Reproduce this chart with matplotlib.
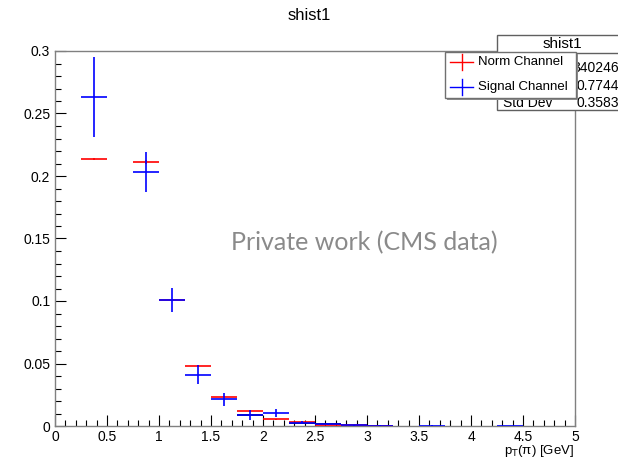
import matplotlib
matplotlib.use("Agg")
import matplotlib.pyplot as plt
from matplotlib.patches import Rectangle
from matplotlib.lines import Line2D
from matplotlib.ticker import MultipleLocator

plt.rcParams['font.family'] = ['Liberation Sans', 'DejaVu Sans']

# bins of width 0.25, only the filled ones
bin_width = 0.25
norm_x = [0.375, 0.875, 1.125, 1.375, 1.625, 1.875, 2.125, 2.375, 2.625, 2.875, 3.125]
norm_y = [0.214, 0.2115, 0.101, 0.0483, 0.0235, 0.012, 0.0053, 0.0032, 0.0012, 0.0006, 0.0003]
norm_err = [0.0008, 0.0015, 0.001, 0.0008, 0.0006, 0.0004, 0.0003, 0.0002, 0.0001, 0.0001, 0.0001]

sig_x = [0.375, 0.875, 1.125, 1.375, 1.625, 1.875, 2.125, 2.375, 2.625, 2.875, 3.125, 3.625, 4.375]
sig_y = [0.2635, 0.2035, 0.101, 0.041, 0.0213, 0.0088, 0.0107, 0.0028, 0.0016, 0.0006, 0.0004, 0.0004, 0.0002]
sig_err = [0.032, 0.016, 0.0095, 0.0076, 0.0055, 0.0037, 0.0032, 0.0015, 0.001, 0.0004, 0.0004, 0.0004, 0.0001]

# black stat histogram, only a few segments show through
hist_x = [1.875, 2.375, 2.625]
hist_y = [0.0088, 0.0028, 0.0016]

stat_labels = ["Entries", "Mean", "Std Dev"]
stat_values = ["340246", "0.7744", "0.3583"]

W, H = 618, 459


def fx(px):
    return px / W


def fy(py):
    return 1 - py / H


fig = plt.figure(figsize=(W / 100, H / 100), dpi=100)
ax = fig.add_axes([fx(55), fy(426), fx(575) - fx(55), fy(51) - fy(426)])

ax.errorbar(hist_x, hist_y, xerr=bin_width / 2, fmt='none', ecolor='black',
            elinewidth=1.2, capsize=0, zorder=2)
ax.errorbar(norm_x, norm_y, xerr=bin_width / 2, yerr=norm_err, fmt='none',
            ecolor='red', elinewidth=1.2, capsize=0, zorder=3)
ax.errorbar(sig_x, sig_y, xerr=bin_width / 2, yerr=sig_err, fmt='none',
            ecolor='blue', elinewidth=1.2, capsize=0, zorder=4)

ax.set_xlim(0, 5)
ax.set_ylim(0, 0.3)
ax.xaxis.set_major_locator(MultipleLocator(0.5))
ax.xaxis.set_minor_locator(MultipleLocator(0.1))
ax.yaxis.set_major_locator(MultipleLocator(0.05))
ax.yaxis.set_minor_locator(MultipleLocator(0.01))
ax.set_xticklabels([f"{v:g}" for v in ax.get_xticks()])
ax.set_yticklabels([f"{v:g}" for v in ax.get_yticks()])
ax.tick_params(which='both', direction='in', top=False, right=False,
               labelsize=10, width=0.8)
ax.tick_params(which='major', length=8)
ax.tick_params(which='minor', length=4)
ax.tick_params(axis='x', pad=3)
for s in ax.spines.values():
    s.set_color('#808080')
    s.set_linewidth(1.0)

# x axis title, right aligned under the tick labels
fig.text(fx(574), fy(451), r'p$_{\rm T}$(π) [GeV]', ha='right', va='center', fontsize=9.5)

fig.text(0.5, fy(15), "shist1", ha='center', va='center', fontsize=12)

fig.text(fx(364), fy(243), "Private work (CMS data)", ha='center', va='center',
         fontsize=18, color='#8a8a8a', family=['Lato', 'DejaVu Sans'])

# stats box
fig.add_artist(Rectangle((fx(497), fy(110)), fx(130), fy(35) - fy(110),
                         transform=fig.transFigure, facecolor='white',
                         edgecolor='#606060', lw=1, zorder=5))
fig.add_artist(Line2D([fx(497), 1], [fy(53), fy(53)], transform=fig.transFigure,
                      color='#606060', lw=1, zorder=5))
fig.text(fx(562), fy(44), "shist1", ha='center', va='center', fontsize=11, zorder=5)
for i, (lab, val) in enumerate(zip(stat_labels, stat_values)):
    yy = fy(68 + i * 17.5)
    fig.text(fx(503), yy, lab, ha='left', va='center', fontsize=10, zorder=5)
    fig.text(fx(619), yy, val, ha='right', va='center', fontsize=10, zorder=5)

# legend with shadow
fig.add_artist(Rectangle((fx(447), fy(100)), fx(131), fy(52) - fy(98),
                         transform=fig.transFigure, facecolor='#909090',
                         edgecolor='none', zorder=6))
fig.add_artist(Rectangle((fx(445), fy(98)), fx(131), fy(52) - fy(98),
                         transform=fig.transFigure, facecolor='white',
                         edgecolor='#707070', lw=1, zorder=6))
for yy, col, name in [(62, 'red', "Norm Channel"), (87, 'blue', "Signal Channel")]:
    fig.add_artist(Line2D([fx(450), fx(473)], [fy(yy), fy(yy)],
                          transform=fig.transFigure, color=col, lw=1, zorder=7))
    fig.add_artist(Line2D([fx(461.5), fx(461.5)], [fy(yy - 8), fy(yy + 8)],
                          transform=fig.transFigure, color=col, lw=1, zorder=7))
    fig.text(fx(478), fy(yy), name, ha='left', va='center', fontsize=9.5, zorder=7)

fig.savefig("out.png", dpi=100)
